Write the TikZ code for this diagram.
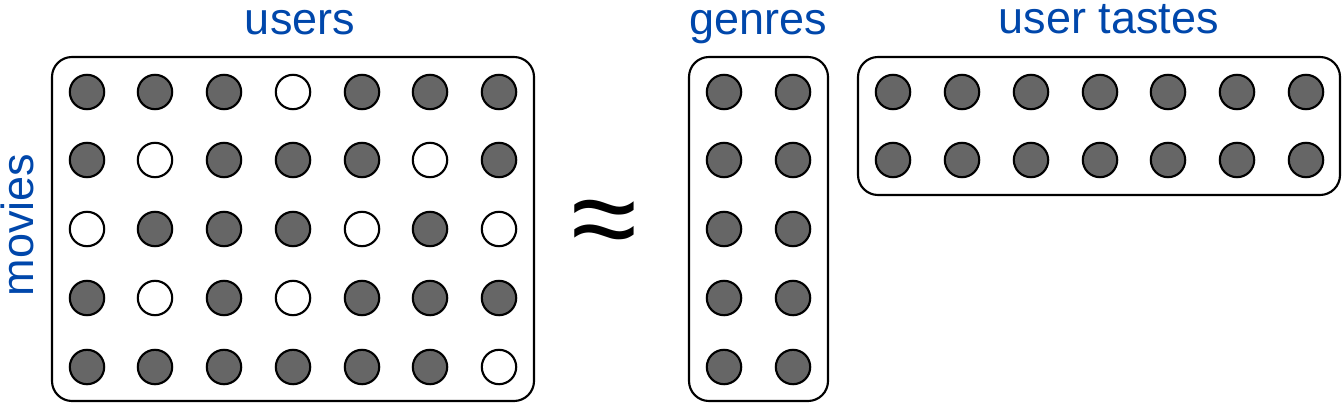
\documentclass[tikz,border=0pt]{standalone}
\usepackage{fontspec}
\setmainfont{Liberation Sans}
\definecolor{labelblue}{RGB}{0,71,171}
\definecolor{dotgray}{RGB}{102,102,102}
\tikzset{
  full/.style={circle, draw, line width=1.6pt, fill=dotgray, inner sep=0pt, minimum size=25.8pt},
  empty/.style={circle, draw, line width=1.6pt, fill=white, inner sep=0pt, minimum size=25.8pt},
  frame/.style={draw, line width=1.6pt, rounded corners=15pt},
  caption/.style={text=labelblue, anchor=base, inner sep=0pt, font=\fontsize{33.75}{40}\selectfont}
}
\begin{document}
\begin{tikzpicture}[x=0.75pt, y=-0.75pt]
      \useasboundingbox (0,0) rectangle (1342,403);
      % ratings
      \draw
        (87,92) node[full] (m11){}
        (155,92) node[full] (m12){}
        (224,92) node[full] (m13){}
        (293,92) node[empty] (m14){}
        (362,92) node[full] (m15){}
        (430,92) node[full] (m16){}
        (499,92) node[full] (m17){}
        (87,160) node[full] (m21){}
        (155,160) node[empty] (m22){}
        (224,160) node[full] (m23){}
        (293,160) node[full] (m24){}
        (362,160) node[full] (m25){}
        (430,160) node[empty] (m26){}
        (499,160) node[full] (m27){}
        (87,229) node[empty] (m31){}
        (155,229) node[full] (m32){}
        (224,229) node[full] (m33){}
        (293,229) node[full] (m34){}
        (362,229) node[empty] (m35){}
        (430,229) node[full] (m36){}
        (499,229) node[empty] (m37){}
        (87,298) node[full] (m41){}
        (155,298) node[empty] (m42){}
        (224,298) node[full] (m43){}
        (293,298) node[empty] (m44){}
        (362,298) node[full] (m45){}
        (430,298) node[full] (m46){}
        (499,298) node[full] (m47){}
        (87,367) node[full] (m51){}
        (155,367) node[full] (m52){}
        (224,367) node[full] (m53){}
        (293,367) node[full] (m54){}
        (362,367) node[full] (m55){}
        (430,367) node[full] (m56){}
        (499,367) node[empty] (m57){};
      \draw[frame] (52,57) rectangle (534,401);
      % genres
      \draw
        (724,92) node[full] (g11){}
        (793,92) node[full] (g12){}
        (724,160) node[full] (g21){}
        (793,160) node[full] (g22){}
        (724,229) node[full] (g31){}
        (793,229) node[full] (g32){}
        (724,298) node[full] (g41){}
        (793,298) node[full] (g42){}
        (724,367) node[full] (g51){}
        (793,367) node[full] (g52){};
      \draw[frame] (689,57) rectangle (828,401);
      % user tastes
      \draw
        (893,92) node[full] (t11){}
        (962,92) node[full] (t12){}
        (1031,92) node[full] (t13){}
        (1100,92) node[full] (t14){}
        (1168,92) node[full] (t15){}
        (1237,92) node[full] (t16){}
        (1306,92) node[full] (t17){}
        (893,160) node[full] (t21){}
        (962,160) node[full] (t22){}
        (1031,160) node[full] (t23){}
        (1100,160) node[full] (t24){}
        (1168,160) node[full] (t25){}
        (1237,160) node[full] (t26){}
        (1306,160) node[full] (t27){};
      \draw[frame] (858,57) rectangle (1340,195);
      % labels
      \node[caption] (users) at (300,35) {users};
      \node[caption] (genres) at (758,35) {genres};
      \node[caption] (tastes) at (1109,34) {user tastes};
      \node[caption, rotate=90] (movies) at (33,225) {movies};
      \node[font=\fontsize{90}{100}\selectfont] (approx) at (604,230) {≈};
    \end{tikzpicture}
\end{document}
